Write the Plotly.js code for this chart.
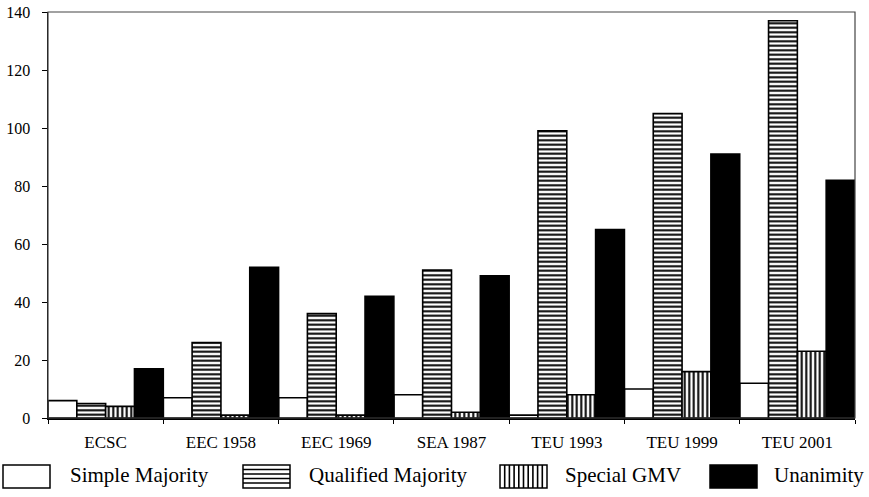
<!DOCTYPE html>
<html>
<head>
<meta charset="utf-8">
<script src="https://cdn.plot.ly/plotly-3.0.1.min.js"></script>
<style>html,body{margin:0;padding:0;background:#fff}#chart{width:869px;height:497px}</style>
</head>
<body>
<div id="chart"></div>
<script>
const categories = ["ECSC", "EEC 1958", "EEC 1969", "SEA 1987", "TEU 1993", "TEU 1999", "TEU 2001"];
const seriesNames = ["Simple Majority", "Qualified Majority", "Special GMV", "Unanimity"];
const simpleMajority = [6, 7, 7, 8, 1, 10, 12];
const qualifiedMajority = [5, 26, 36, 51, 99, 105, 137];
const specialGMV = [4, 1, 1, 2, 8, 16, 23];
const unanimity = [17, 52, 42, 49, 65, 91, 82];
const yTicks = [0, 20, 40, 60, 80, 100, 120, 140];

// styles (kept apart from data)
const styles = [
  {fill: "#fff", pattern: null},
  {fill: "#fff", pattern: "-"},
  {fill: "#fff", pattern: "|"},
  {fill: "#000", pattern: null}
];
const seriesValues = [simpleMajority, qualifiedMajority, specialGMV, unanimity];

const outline = {color: "#000", width: 1.6};
const traces = seriesNames.map((name, i) => {
  const st = styles[i];
  const marker = {color: st.fill, line: outline};
  if (st.pattern) marker.pattern = {shape: st.pattern, fgcolor: "#000", bgcolor: "#fff", size: 4.5, solidity: 0.45, fillmode: "replace"};
  return {type: "bar", name: name, x: categories, y: seriesValues[i], marker: marker, hoverinfo: "skip", showlegend: false};
});

// Plot geometry in pixels
const W = 869, H = 497, mL = 48, mR = 14, mT = 12, mB = 79;
const pw = W - mL - mR, ph = H - mT - mB;
const px = x => (x - mL) / pw;
const py = y => (H - mB - y) / ph;

// Custom legend (big swatches, like the original)
const legendBoxX = [3, 243, 500, 710];
const legendTextX = [68, 307, 563, 772];
const boxW = 47, boxTop = 465, boxBot = 488;
const shapes = [{type: "rect", xref: "paper", yref: "paper", x0: 0, x1: 1, y0: 0, y1: 1, line: {color: "#444", width: 1.2}, fillcolor: "rgba(0,0,0,0)", layer: "above"}];
const annotations = [];
const serif = "Liberation Serif";
seriesNames.forEach((name, i) => {
  const x0 = legendBoxX[i], x1 = x0 + boxW;
  shapes.push({type: "rect", xref: "paper", yref: "paper", x0: px(x0), x1: px(x1), y0: py(boxBot), y1: py(boxTop),
    fillcolor: styles[i].fill, line: {color: "#000", width: 1.5}});
  if (styles[i].pattern === "-") {
    for (let y = boxTop + 4.5; y < boxBot - 1; y += 4.5) {
      shapes.push({type: "line", xref: "paper", yref: "paper", x0: px(x0), x1: px(x1), y0: py(y), y1: py(y), line: {color: "#000", width: 1.6}});
    }
  } else if (styles[i].pattern === "|") {
    for (let x = x0 + 4.7; x < x1 - 1; x += 4.7) {
      shapes.push({type: "line", xref: "paper", yref: "paper", x0: px(x), x1: px(x), y0: py(boxTop), y1: py(boxBot), line: {color: "#000", width: 1.6}});
    }
  }
  annotations.push({text: name, xref: "paper", yref: "paper", x: px(legendTextX[i]), y: py((boxTop + boxBot) / 2 - 1),
    xanchor: "left", yanchor: "middle", showarrow: false, font: {family: serif, size: 21, color: "#000"}});
});

const layout = {
  width: W, height: H,
  margin: {l: mL, r: mR, t: mT, b: mB, autoexpand: false},
  paper_bgcolor: "#fff", plot_bgcolor: "#fff",
  barmode: "group", bargap: 0, bargroupgap: 0,
  font: {family: serif, color: "#000", size: 16},
  showlegend: false,
  xaxis: {
    type: "category", showgrid: false, zeroline: false, automargin: false,
    showline: true, linecolor: "#000", linewidth: 1.5,
    ticks: "outside", tickson: "boundaries", ticklen: 4, tickcolor: "#000",
    tickfont: {family: serif, size: 17, color: "#000"}, ticklabelstandoff: 8
  },
  yaxis: {
    range: [0, 140], tickvals: yTicks, showgrid: false, zeroline: false, automargin: false,
    showline: true, linecolor: "#000", linewidth: 1.5,
    ticks: "outside", ticklen: 5, tickcolor: "#000",
    tickfont: {family: serif, size: 16, color: "#000"}, ticklabelstandoff: 8
  },
  shapes: shapes,
  annotations: annotations
};
Plotly.newPlot("chart", traces, layout, {staticPlot: true});
</script>
</body>
</html>
